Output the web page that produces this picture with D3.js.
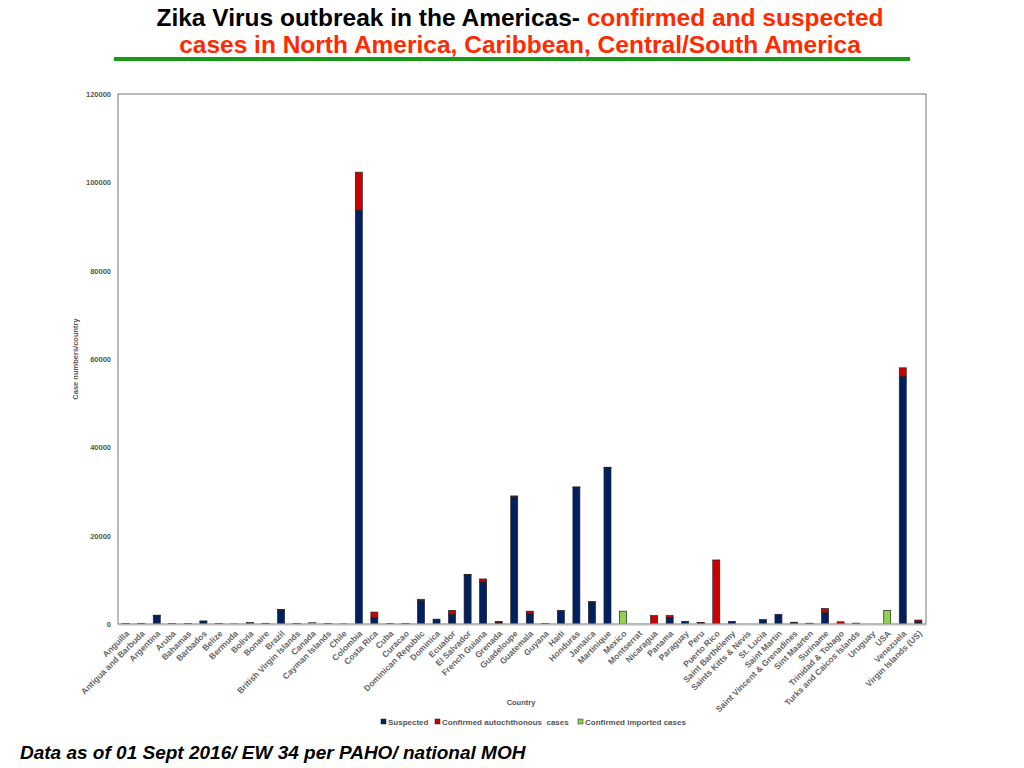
<!DOCTYPE html>
<html>
<head>
<meta charset="utf-8">
<script src="https://cdn.jsdelivr.net/npm/d3@7"></script>
<style>
  body { margin: 0; background: #fff; }
  svg { display: block; }
</style>
</head>
<body>
<div class="main"></div>
<script>
const countries = ["Anguilla", "Antigua and Barbuda", "Argentina", "Aruba", "Bahamas", "Barbados", "Belize",
  "Bermuda", "Bolivia", "Bonaire", "Brazil", "British Virgin Islands", "Canada", "Cayman Islands", "Chile",
  "Colombia", "Costa Rica", "Cuba", "Curacao", "Dominican Republic", "Dominica", "Ecuador", "El Salvador",
  "French Guiana", "Grenada", "Guadeloupe", "Guatemala", "Guyana", "Haiti", "Honduras", "Jamaica",
  "Martinique", "Mexico", "Montserrat", "Nicaragua", "Panama", "Paraguay", "Peru", "Puerto Rico",
  "Saint Barthélemy", "Saints Kitts & Nevis", "St. Lucia", "Saint Martin", "Saint Vincent & Grenadines",
  "Sint Maarten", "Suriname", "Trinidad & Tobago", "Turks and Caicos Islands", "Uruguay", "USA",
  "Venezuela", "Virgin Islands (US)"];

const suspected = [100, 120, 1900, 90, 60, 600, 80,
  0, 200, 120, 3200, 80, 0, 60, 0,
  93700, 1500, 50, 80, 5300, 1100, 2200, 11100,
  9500, 500, 28800, 2300, 100, 3100, 30900, 5000,
  35400, 0, 0, 50, 1500, 600, 300, 100,
  600, 0, 1000, 2200, 300,
  100, 2600, 100, 200, 0, 0,
  56100, 500];

const confirmedAuto = [50, 40, 100, 20, 40, 100, 30,
  20, 50, 40, 100, 30, 0, 20, 20,
  8600, 1200, 20, 40, 300, 0, 900, 150,
  700, 20, 200, 600, 50, 0, 150, 50,
  100, 0, 0, 1850, 400, 0, 50, 14400,
  0, 0, 0, 0, 100,
  80, 900, 400, 0, 0, 0,
  1900, 400];

const confirmedImported = [0, 0, 0, 0, 0, 0, 0,
  0, 80, 0, 0, 0, 300, 0, 0,
  0, 0, 0, 0, 0, 0, 0, 0,
  0, 0, 0, 0, 0, 0, 0, 0,
  0, 2900, 0, 0, 0, 0, 0, 0,
  0, 0, 0, 0, 0,
  0, 0, 0, 0, 0, 3100,
  0, 0];

const seriesNames = ["Suspected", "Confirmed autochthonous  cases", "Confirmed imported cases"];
const seriesColors = ["#002060", "#cc0000", "#92d050"];
const yTicks = [0, 20000, 40000, 60000, 80000, 100000, 120000];

const width = 1024;
const height = 768;
const margin = { top: 94, left: 118, right: 98, bottom: 144 };
const plotW = width - margin.left - margin.right;
const plotH = height - margin.top - margin.bottom;

const table = countries.map((c, i) => ({
  country: c, s0: suspected[i], s1: confirmedAuto[i], s2: confirmedImported[i]
}));
const stack = d3.stack().keys(["s0", "s1", "s2"])(table);

const svg = d3.select(".main").append("svg")
  .attr("width", width)
  .attr("height", height)
  .attr("font-family", "Liberation Sans, Arial, sans-serif");

// Title
const title = svg.append("text")
  .attr("text-anchor", "middle")
  .attr("font-weight", "bold")
  .attr("font-size", 24.5);
const l1 = title.append("tspan").attr("x", 520).attr("y", 26);
l1.append("tspan").attr("fill", "#000").text("Zika Virus outbreak in the Americas- ");
l1.append("tspan").attr("fill", "#ff2a00").text("confirmed and suspected");
title.append("tspan").attr("x", 520).attr("y", 53).attr("fill", "#ff2a00")
  .text("cases in North America, Caribbean, Central/South America");

svg.append("rect")
  .attr("x", 114).attr("y", 57)
  .attr("width", 796).attr("height", 4)
  .attr("fill", "#1a9a1a");

const x = d3.scaleBand()
  .domain(countries)
  .range([margin.left, margin.left + plotW])
  .paddingInner(0.55)
  .paddingOuter(0.27);

const y = d3.scaleLinear()
  .domain([0, 120000])
  .range([margin.top + plotH, margin.top]);

// frame
svg.append("rect")
  .attr("x", margin.left).attr("y", margin.top)
  .attr("width", plotW).attr("height", plotH)
  .attr("fill", "none")
  .attr("stroke", "#777")
  .attr("stroke-width", 1);

// y axis
const yAxis = svg.append("g")
  .attr("transform", `translate(${margin.left},0)`)
  .call(d3.axisLeft(y).tickValues(yTicks).tickFormat(d3.format("d")).tickSize(0).tickPadding(7));
yAxis.select(".domain").remove();
yAxis.selectAll("text")
  .attr("font-size", 7.5)
  .attr("font-weight", "bold")
  .attr("fill", "#555");

svg.append("text")
  .attr("transform", `translate(78,${margin.top + plotH / 2}) rotate(-90)`)
  .attr("text-anchor", "middle")
  .attr("font-size", 7.5)
  .attr("font-weight", "bold")
  .attr("fill", "#555")
  .text("Case numbers/country");

// bars
svg.append("g").selectAll("g")
  .data(stack)
  .join("g")
    .attr("fill", (d, i) => seriesColors[i])
  .selectAll("rect")
  .data((d) => d.filter((v) => v[1] - v[0] > 0))
  .join("rect")
    .attr("x", (d) => x(d.data.country))
    .attr("y", (d) => y(d[1]))
    .attr("width", x.bandwidth())
    .attr("height", (d) => Math.max(0.8, y(d[0]) - y(d[1])))
    .attr("stroke", "#222")
    .attr("stroke-width", 0.7);

// x axis
const xAxis = svg.append("g")
  .attr("transform", `translate(0,${margin.top + plotH})`)
  .call(d3.axisBottom(x).tickSize(0));
xAxis.select(".domain").attr("stroke", "#bbb").attr("stroke-width", 2);
xAxis.selectAll("text")
  .attr("x", 0)
  .attr("y", 0)
  .attr("font-size", 8.5)
  .attr("font-weight", "bold")
  .attr("fill", "#666")
  .attr("text-anchor", "end")
  .attr("dy", "0.35em")
  .attr("transform", "translate(2,8) rotate(-45)");

svg.append("text")
  .attr("x", 521).attr("y", 705)
  .attr("text-anchor", "middle")
  .attr("font-size", 7.5)
  .attr("font-weight", "bold")
  .attr("fill", "#555")
  .text("Country");

// legend
const legendX = [381, 435, 578];
const legend = svg.append("g").selectAll("g")
  .data(seriesNames)
  .join("g")
    .attr("transform", (d, i) => `translate(${legendX[i]},719)`);
legend.append("rect")
  .attr("width", 5).attr("height", 5)
  .attr("fill", (d, i) => seriesColors[i])
  .attr("stroke", "#222").attr("stroke-width", 0.5);
legend.append("text")
  .attr("x", 7).attr("y", 5.5)
  .attr("font-size", 8)
  .attr("font-weight", "bold")
  .attr("fill", "#555")
  .attr("xml:space", "preserve")
  .text((d) => d);

// footer
svg.append("text")
  .attr("x", 20).attr("y", 759)
  .attr("font-size", 19)
  .attr("font-weight", "bold")
  .attr("font-style", "italic")
  .attr("fill", "#000")
  .text("Data as of 01 Sept 2016/ EW 34 per PAHO/ national MOH");
</script>
</body>
</html>
